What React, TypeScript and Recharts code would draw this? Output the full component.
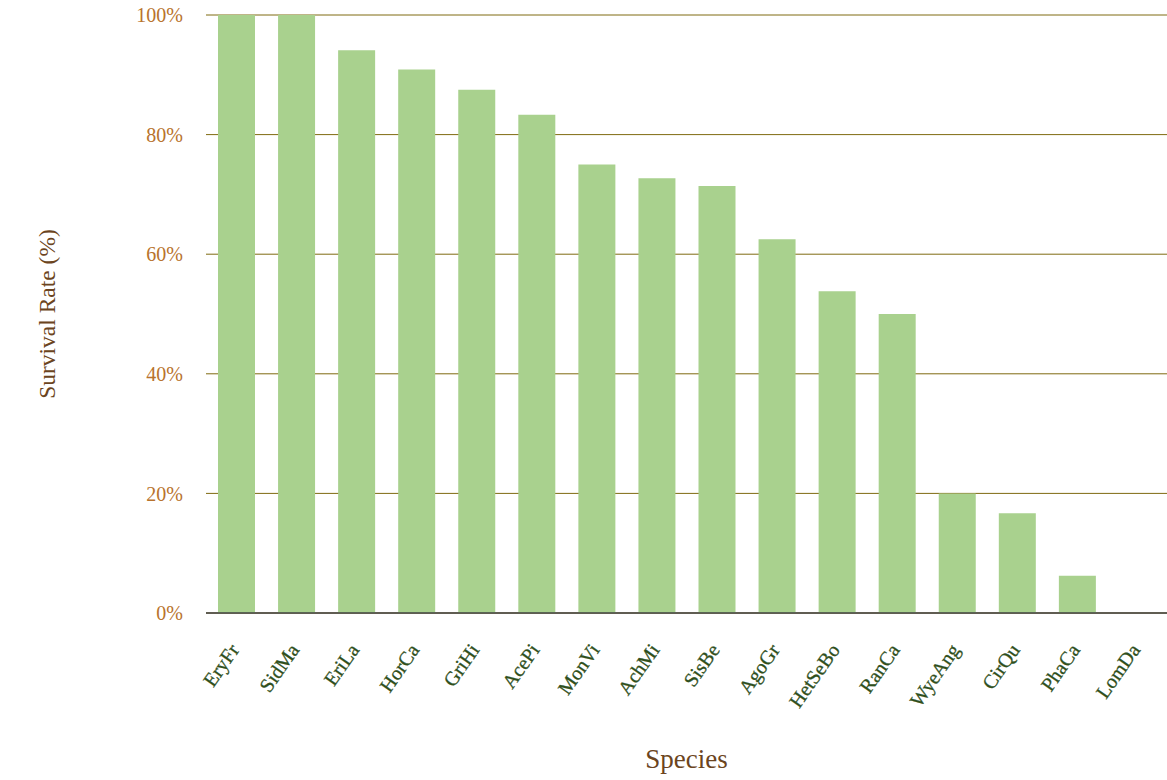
import React from "react"
import { BarChart, Bar, XAxis, YAxis, CartesianGrid, Label } from "recharts"

const species = [
  "EryFr", "SidMa", "EriLa", "HorCa", "GriHi", "AcePi", "MonVi", "AchMi",
  "SisBe", "AgoGr", "HetSeBo", "RanCa", "WyeAng", "CirQu", "PhaCa", "LomDa",
]
const survival = [100, 100, 94.1, 90.9, 87.5, 83.3, 75, 72.7, 71.4, 62.5, 53.8, 50, 20, 16.7, 6.25, 0]
const yTicks = [0, 20, 40, 60, 80, 100]

const data = species.map((name, i) => ({ name, value: survival[i] }))

const FONT = '"Liberation Serif", "DejaVu Serif", serif'

function SpeciesTick(props: any) {
  const { x, y, payload } = props
  return (
    <g transform={`translate(${x + 4},${y + 37})`}>
      <text
        textAnchor="end"
        transform="rotate(-55)"
        fill="#2f4f1c"
        fontSize={20}
        fontFamily={FONT}
        stroke="#2f4f1c"
        strokeWidth={0.3}
      >
        {payload.value}
      </text>
    </g>
  )
}

export default function App() {
  return (
    <div style={{ position: "absolute", left: 0, top: 0, width: 1167, height: 780, background: "#fff" }}>
      <BarChart
        width={1167}
        height={780}
        data={data}
        margin={{ top: 15, right: 0, left: 0, bottom: 0 }}
      >
        <CartesianGrid vertical={false} stroke="#7f6a10" strokeWidth={1} />
        <XAxis
          dataKey="name"
          height={167}
          interval={0}
          tickLine={false}
          tickSize={0}
          tickMargin={0}
          axisLine={{ stroke: "#404040", strokeWidth: 1.5 }}
          tick={<SpeciesTick />}
        >
          <Label
            value="Species"
            position="insideBottom"
            offset={12}
            fill="#6b4420"
            fontSize={27}
            fontFamily={FONT}
          />
        </XAxis>
        <YAxis
          width={206}
          domain={[0, 100]}
          ticks={yTicks}
          tickFormatter={(v: number) => `${v}%`}
          axisLine={false}
          tickLine={false}
          tickSize={0}
          tickMargin={23}
          tick={{ fill: "#b8732d", fontSize: 20, fontFamily: FONT }}
        >
          <Label
            value="Survival Rate (%)"
            angle={-90}
            position="insideLeft"
            offset={47}
            fill="#6b4420"
            fontSize={23.5}
            fontFamily={FONT}
            style={{ textAnchor: "middle" }}
          />
        </YAxis>
        <Bar dataKey="value" fill="#a9d18e" barSize={37} isAnimationActive={false} />
      </BarChart>
    </div>
  )
}
